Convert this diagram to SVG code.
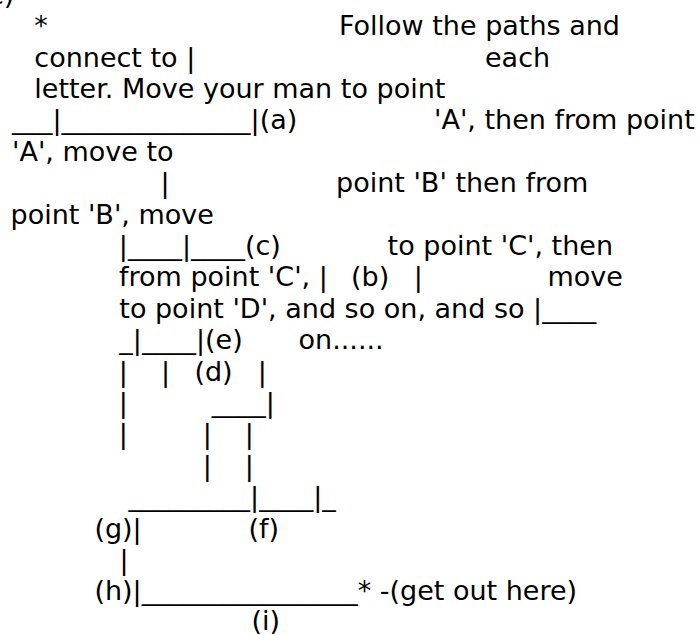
<svg xmlns="http://www.w3.org/2000/svg" width="699" height="635" viewBox="0 0 699 635">
<style>
text{font-family:"DejaVu Sans","Noto Sans",sans-serif;font-size:27px;fill:#000;white-space:pre}
</style>
<rect width="699" height="635" fill="#fff"/>
<g id="text">
<text x="-11" y="3.8">c)</text>
<text x="34.3" y="35.2">*</text>
<text x="339" y="35.2">Follow the paths and</text>
<text x="34.3" y="66.6">connect to |</text>
<text x="485" y="66.6">each</text>
<text x="34.3" y="98">letter. Move your man to point</text>
<text x="12" y="129.4">___|______________|(a)</text>
<text x="434" y="129.4">'A', then from point</text>
<text x="12" y="160.8">'A', move to</text>
<text x="160.5" y="192.2">|</text>
<text x="336" y="192.2">point 'B' then from</text>
<text x="10.5" y="223.6">point 'B', move</text>
<text x="118.8" y="255">|____|____(c)</text>
<text x="387.6" y="255">to point 'C', then</text>
<text x="119" y="286.4">from point 'C', |</text>
<text x="351" y="286.4">(b)</text>
<text x="413.8" y="286.4">|</text>
<text x="547.5" y="286.4">move</text>
<text x="119.3" y="317.8">to point 'D', and so on, and so |____</text>
<text x="119.3" y="349.2">_|____|(e)</text>
<text x="298.5" y="349.2">on......</text>
<text x="118.8" y="380.6">|</text>
<text x="161" y="380.6">|</text>
<text x="194.4" y="380.6">(d)</text>
<text x="257.8" y="380.6">|</text>
<text x="118.8" y="412">|</text>
<text x="211.7" y="412">____|</text>
<text x="118.8" y="443.4">|</text>
<text x="202.8" y="443.4">|</text>
<text x="244.8" y="443.4">|</text>
<text x="202.8" y="474.8">|</text>
<text x="244.8" y="474.8">|</text>
<text x="128.6" y="506.2">_________|____|_</text>
<text x="94.4" y="537.6">(g)|</text>
<text x="248.4" y="537.6">(f)</text>
<text x="119.5" y="569">|</text>
<text x="94.4" y="600.4">(h)|________________* -(get out here)</text>
<text x="251.5" y="630">(i)</text>
</g>
</svg>
